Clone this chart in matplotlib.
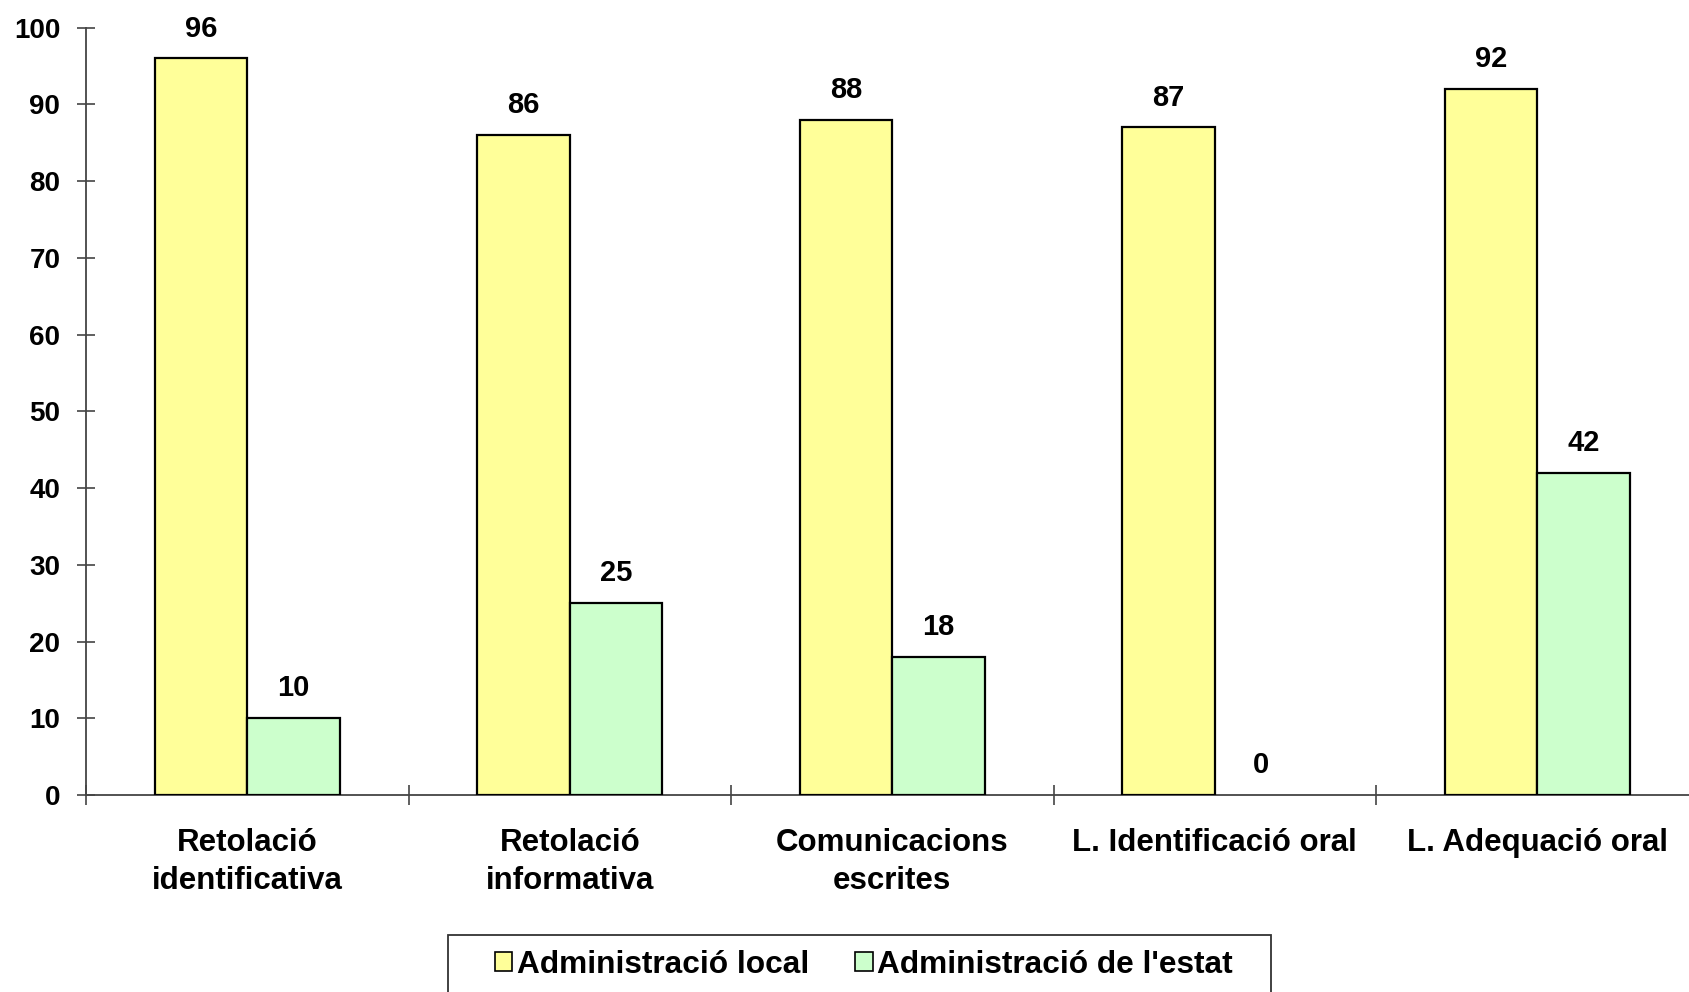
import numpy as np
import matplotlib
matplotlib.use("Agg")
import matplotlib.pyplot as plt
from matplotlib.patches import Rectangle, Patch

plt.rcParams['font.family'] = ['Liberation Sans', 'DejaVu Sans']
plt.rcParams['font.weight'] = 'bold'

categories = ["Retolació\nidentificativa", "Retolació\ninformativa", "Comunicacions\nescrites",
              "L. Identificació oral", "L. Adequació oral"]
local_vals = [96, 86, 88, 87, 92]
estat_vals = [10, 25, 18, 0, 42]
series_names = ["Administració local", "Administració de l'estat"]
colors = ["#FFFF99", "#CCFFCC"]

W, H = 1690, 992
fig = plt.figure(figsize=(W / 100, H / 100), dpi=100)
ax = fig.add_axes([86 / W, (H - 795) / H, 5 * 322.5 / W, (795 - 27.7) / H])

x = np.arange(len(categories))
bw = 0.287
bars1 = ax.bar(x - bw / 2, local_vals, bw, color=colors[0], edgecolor="black", linewidth=1.6, zorder=3)
bars2 = ax.bar(x + bw / 2, estat_vals, bw, color=colors[1], edgecolor="black", linewidth=1.6, zorder=3)

for bars, vals in ((bars1, local_vals), (bars2, estat_vals)):
    for b, v in zip(bars, vals):
        if v == 0:
            b.set_linewidth(0)
        ax.annotate(str(v), (b.get_x() + b.get_width() / 2, v), xytext=(0, 21.5),
                    textcoords="offset points", ha="center", va="center",
                    fontsize=21, fontweight="bold")

ax.set_xlim(-0.5, 4.5)
ax.set_ylim(0, 100)
ax.set_yticks(np.arange(0, 101, 10))
ax.set_xticks(np.arange(-0.5, 5, 1))
ax.set_xticklabels([])
ax.set_xticks(x, minor=True)
ax.set_xticklabels(categories, minor=True, fontsize=22.5, fontweight="bold", linespacing=1.34)
ax.tick_params(axis="x", which="minor", length=0, pad=24)
ax.tick_params(axis="x", which="major", direction="inout", length=14, width=1.2, color="#444444")
ax.tick_params(axis="y", direction="inout", length=13, width=1.2, color="#444444", labelsize=20, pad=12)
for lab in ax.get_yticklabels():
    lab.set_fontweight("bold")

for s in ("top", "right"):
    ax.spines[s].set_visible(False)
for s in ("left", "bottom"):
    ax.spines[s].set_color("#444444")
    ax.spines[s].set_linewidth(1.3)

# legend box (cut by the bottom edge of the image)
fig.patches.append(Rectangle((448 / W, -0.02), (1271 - 448) / W, (H - 935) / H + 0.02,
                             transform=fig.transFigure, facecolor="white",
                             edgecolor="#333333", linewidth=1.3))
handles = [Patch(facecolor=c, edgecolor="black", linewidth=1.2) for c in colors]
fig.legend(handles, series_names, loc="center", bbox_to_anchor=(864 / W, (H - 964.6) / H),
           ncol=2, frameon=False, handlelength=0.55, handleheight=0.55,
           handletextpad=0.15, columnspacing=1.45, prop={"weight": "bold", "size": 22.8})

fig.savefig("out.png", dpi=100)
